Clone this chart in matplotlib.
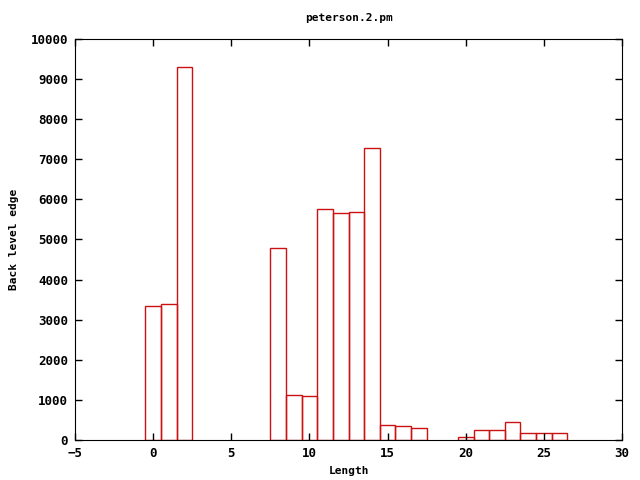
import matplotlib
matplotlib.use('Agg')
import matplotlib.pyplot as plt

# bar positions (Length) and heights
x = [0, 1, 2, 8, 9, 10, 11, 12, 13, 14, 15, 16, 17, 20, 21, 22, 23, 24, 25, 26]
y = [3350, 3380, 9310, 4780, 1115, 1090, 5750, 5650, 5680, 7270,
     365, 340, 290, 70, 240, 240, 440, 175, 175, 175]

plt.rcParams['font.family'] = 'DejaVu Sans Mono'
plt.rcParams['font.weight'] = 'bold'
plt.rcParams['font.size'] = 9

fig = plt.figure(figsize=(6.4, 4.8), dpi=100)
ax = fig.add_axes([75/640, 40/480, 547/640, 401/480])

ax.bar(x, y, width=1.0, facecolor='none', edgecolor='#cc1111', linewidth=1)

ax.set_xlim(-5, 30)
ax.set_ylim(0, 10000)
ax.set_xticks(range(-5, 31, 5))
ax.set_yticks(range(0, 10001, 1000))
ax.tick_params(direction='in', top=True, right=True, length=5, width=1, pad=5)

ax.set_title('peterson.2.pm', fontsize=8, fontweight='bold', pad=13)
ax.set_xlabel('Length', fontsize=8, fontweight='bold')
ax.set_ylabel('Back level edge', fontsize=8, fontweight='bold', labelpad=8)

fig.savefig('out.png', dpi=100)
